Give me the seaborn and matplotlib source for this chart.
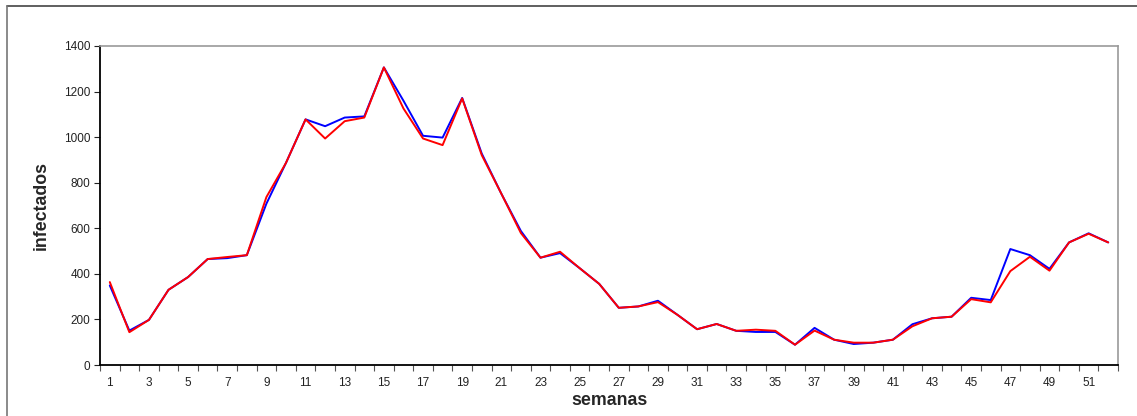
import numpy as np
import pandas as pd
import matplotlib
matplotlib.use("Agg")
import matplotlib.pyplot as plt
import seaborn as sns
from matplotlib.lines import Line2D
from matplotlib.ticker import FixedLocator

# ================= DADOS =================
semanas = list(range(1, 53))

serie_azul = [349, 151, 198, 330, 386, 465, 469, 482, 708, 887,
              1078, 1048, 1086, 1091, 1306, 1160, 1006, 998, 1172, 928,
              752, 588, 471, 491, 425, 356, 251, 257, 282, 220,
              157, 180, 150, 145, 145, 89, 163, 111, 92, 98,
              111, 179, 205, 212, 295, 285, 509, 482, 422, 538,
              578, 538]

serie_vermelha = [364, 144, 198, 330, 386, 465, 474, 482, 737, 887,
                  1078, 994, 1070, 1086, 1306, 1126, 994, 965, 1170, 921,
                  752, 579, 471, 497, 425, 356, 251, 257, 276, 220,
                  157, 180, 150, 155, 150, 89, 151, 111, 98, 98,
                  111, 170, 205, 212, 289, 275, 412, 475, 414, 538,
                  576, 538]

rotulos_x = [str(s) for s in range(1, 53, 2)]

df = pd.DataFrame({
    "semana": semanas * 2,
    "infectados": serie_azul + serie_vermelha,
    "serie": ["azul"] * 52 + ["vermelha"] * 52,
})

# ================= FIGURA =================
sns.set_style("white")
plt.rcParams["font.family"] = ["Liberation Sans", "DejaVu Sans"]

fig = plt.figure(figsize=(11.37, 4.16), dpi=100)
ax = fig.add_axes([100 / 1137, 51 / 416, 1018 / 1137, 319 / 416])

sns.lineplot(data=df, x="semana", y="infectados", hue="serie",
             palette={"azul": "#0000ff", "vermelha": "#ff0000"},
             linewidth=1.4, legend=False, ax=ax)

ax.set_xlim(0.5, 52.5)
ax.set_ylim(0, 1400)
ax.set_yticks(range(0, 1401, 200))
ax.xaxis.set_major_locator(FixedLocator(list(range(1, 53, 2))))
ax.set_xticklabels(rotulos_x)
ax.xaxis.set_minor_locator(FixedLocator(np.arange(0.5, 53, 1)))

ax.tick_params(axis="x", which="major", length=0, labelsize=8.5, pad=9, colors="#222222")
ax.tick_params(axis="x", which="minor", length=4, width=0.8, direction="out", color="#555555")
ax.tick_params(axis="y", which="major", length=4, width=0.8, direction="out", labelsize=8.5,
               colors="#222222", pad=3)
ax.tick_params(axis="both", bottom=True, left=True, which="both")

for lado in ["left", "bottom"]:
    ax.spines[lado].set_color("black")
    ax.spines[lado].set_linewidth(1.3)
for lado in ["top", "right"]:
    ax.spines[lado].set_color("#999999")
    ax.spines[lado].set_linewidth(1.2)

ax.set_xlabel("semanas", fontsize=12.8, fontweight="bold", labelpad=2)
ax.set_ylabel("infectados", fontsize=12.8, fontweight="bold", labelpad=10)

# moldura externa (apenas topo e esquerda visíveis)
fig.add_artist(Line2D([7 / 1137, 1], [1 - 6 / 416, 1 - 6 / 416], color="#444444", linewidth=1.2))
fig.add_artist(Line2D([7 / 1137, 7 / 1137], [0, 1 - 6 / 416], color="#777777", linewidth=1.2))

fig.savefig("out.png", dpi=100)
